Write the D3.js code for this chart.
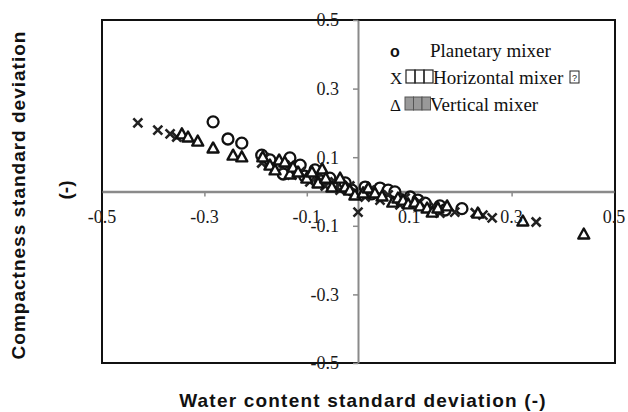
<!DOCTYPE html>
<html>
<head>
<meta charset="utf-8">
<script src="https://cdn.jsdelivr.net/npm/d3@7"></script>
<style>
  body { margin: 0; background: #fff; }
  svg { display: block; }
</style>
</head>
<body>
<svg id="chart" width="628" height="412"></svg>
<script>
// Planetary mixer (circles)
const planetaryX = [-0.283, -0.254, -0.227, -0.188, -0.172, -0.160, -0.146, -0.133, -0.113, -0.104, -0.084, -0.074, -0.055, -0.039, -0.025, -0.012, 0.014, 0.027, 0.043, 0.059, 0.072, 0.102, 0.117, 0.131, 0.160, 0.170, 0.203];
const planetaryY = [0.203, 0.153, 0.141, 0.106, 0.092, 0.069, 0.051, 0.098, 0.077, 0.045, 0.063, 0.031, 0.039, 0.019, 0.025, 0.004, 0.013, -0.007, 0.010, 0.004, -0.001, -0.016, -0.025, -0.034, -0.042, -0.054, -0.050];

// Horizontal mixer (crosses)
const horizontalX = [-0.430, -0.391, -0.367, -0.354, -0.188, -0.182, -0.143, -0.129, -0.113, -0.094, -0.078, -0.064, -0.045, -0.035, -0.016, 0.000, 0.014, 0.023, 0.043, 0.059, 0.082, 0.092, 0.121, 0.150, 0.160, 0.189, 0.229, 0.244, 0.262, 0.348];
const horizontalY = [0.200, 0.179, 0.168, 0.159, 0.083, 0.098, 0.077, 0.048, 0.057, 0.028, 0.042, 0.016, 0.028, 0.004, 0.016, -0.060, -0.016, 0.004, -0.025, -0.010, -0.039, -0.019, -0.031, -0.045, -0.063, -0.060, -0.062, -0.069, -0.077, -0.089];

// Vertical mixer (triangles)
const verticalX = [-0.344, -0.332, -0.313, -0.283, -0.244, -0.227, -0.186, -0.172, -0.162, -0.154, -0.143, -0.133, -0.127, -0.117, -0.100, -0.090, -0.078, -0.070, -0.063, -0.051, -0.035, -0.025, -0.016, -0.006, 0.010, 0.020, 0.033, 0.047, 0.068, 0.078, 0.088, 0.098, 0.111, 0.121, 0.135, 0.145, 0.156, 0.174, 0.234, 0.322, 0.441];
const verticalY = [0.168, 0.159, 0.147, 0.127, 0.106, 0.101, 0.101, 0.077, 0.063, 0.092, 0.086, 0.051, 0.071, 0.057, 0.039, 0.057, 0.025, 0.066, 0.039, 0.013, 0.039, 0.013, 0.004, -0.010, -0.004, 0.010, -0.004, -0.013, -0.031, -0.019, -0.025, -0.036, -0.031, -0.042, -0.048, -0.060, -0.048, -0.042, -0.063, -0.086, -0.124];

const tickValues = [-0.5, -0.3, -0.1, 0.1, 0.3, 0.5];
const tickLabels = ['-0.5', '-0.3', '-0.1', '0.1', '0.3', '0.5'];

const svg = d3.select('#chart');
const X0 = 102, X1 = 614, Y0 = 20, Y1 = 363;

const xScale = d3.scaleLinear().domain([-0.5, 0.5]).range([X0, X1]);
const yScale = d3.scaleLinear().domain([-0.5, 0.5]).range([Y1, Y0]);

const serif = "'Liberation Serif', 'Times New Roman', serif";
const sans = "'Liberation Sans', Arial, sans-serif";

svg.append('rect').attr('width', 628).attr('height', 412).attr('fill', '#fff');

// Frame
svg.append('rect')
  .attr('x', X0).attr('y', Y0)
  .attr('width', X1 - X0 + 1).attr('height', Y1 - Y0)
  .attr('fill', 'none')
  .attr('stroke', '#111')
  .attr('stroke-width', 2);

// Axes through origin
const xAxis = d3.axisBottom(xScale)
  .tickValues(tickValues.slice(1, -1))
  .tickFormat('')
  .tickSize(5)
  .tickSizeOuter(0);
const xAxisG = svg.append('g')
  .attr('transform', `translate(0,${yScale(0)})`)
  .call(xAxis);
xAxisG.select('.domain').attr('stroke', '#8a8a8a').attr('stroke-width', 2.5);
xAxisG.selectAll('.tick line').attr('stroke', '#8a8a8a').attr('stroke-width', 1.5);

const yAxis = d3.axisLeft(yScale)
  .tickValues(tickValues)
  .tickFormat('')
  .tickSize(5)
  .tickSizeOuter(0);
const yAxisG = svg.append('g')
  .attr('transform', `translate(${xScale(0)},0)`)
  .call(yAxis);
yAxisG.select('.domain').attr('stroke', '#8a8a8a').attr('stroke-width', 2);
yAxisG.selectAll('.tick line').attr('stroke', '#8a8a8a').attr('stroke-width', 1.5);

// Points
const planetary = planetaryX.map((x, i) => ({ x, y: planetaryY[i] }));
const horizontal = horizontalX.map((x, i) => ({ x, y: horizontalY[i] }));
const vertical = verticalX.map((x, i) => ({ x, y: verticalY[i] }));

svg.append('g').selectAll('circle')
  .data(planetary)
  .enter()
  .append('circle')
  .attr('cx', d => xScale(d.x))
  .attr('cy', d => yScale(d.y))
  .attr('r', 5.5)
  .attr('fill', '#fff')
  .attr('stroke', '#111')
  .attr('stroke-width', 2.3);

svg.append('g').selectAll('path')
  .data(horizontal)
  .enter()
  .append('path')
  .attr('transform', d => `translate(${xScale(d.x)},${yScale(d.y)})`)
  .attr('d', 'M-4.5,-4.5L4.5,4.5M-4.5,4.5L4.5,-4.5')
  .attr('stroke', '#222')
  .attr('stroke-width', 2.6);

svg.append('g').selectAll('path')
  .data(vertical)
  .enter()
  .append('path')
  .attr('transform', d => `translate(${xScale(d.x)},${yScale(d.y)})`)
  .attr('d', 'M0,-5.5L5.5,4.5L-5.5,4.5Z')
  .attr('fill', '#fff')
  .attr('stroke', '#111')
  .attr('stroke-width', 2.4)
  .attr('stroke-linejoin', 'round');

// Tick labels
svg.append('g').selectAll('text')
  .data(tickValues)
  .enter()
  .append('text')
  .attr('x', d => xScale(d))
  .attr('y', yScale(0) + 31)
  .attr('text-anchor', 'middle')
  .style('font-family', serif)
  .style('font-size', '18px')
  .style('fill', '#1a1a1a')
  .text((d, i) => tickLabels[i]);

svg.append('g').selectAll('text')
  .data(tickValues)
  .enter()
  .append('text')
  .attr('x', xScale(0) - 19)
  .attr('y', d => yScale(d))
  .attr('dy', '0.35em')
  .attr('text-anchor', 'end')
  .style('font-family', serif)
  .style('font-size', '18px')
  .style('fill', '#1a1a1a')
  .text((d, i) => tickLabels[i]);

// Axis titles
svg.append('text')
  .attr('x', 363)
  .attr('y', 407)
  .attr('text-anchor', 'middle')
  .style('font-family', sans)
  .style('font-weight', 'bold')
  .style('font-size', '19px')
  .style('letter-spacing', '1.2px')
  .style('fill', '#111')
  .text('Water content standard deviation (-)');

svg.append('text')
  .attr('transform', 'translate(25,195) rotate(-90)')
  .attr('text-anchor', 'middle')
  .style('font-family', sans)
  .style('font-weight', 'bold')
  .style('font-size', '19px')
  .style('letter-spacing', '1px')
  .style('fill', '#111')
  .text('Compactness standard deviation');

svg.append('text')
  .attr('transform', 'translate(72,190) rotate(-90)')
  .attr('text-anchor', 'middle')
  .style('font-family', sans)
  .style('font-weight', 'bold')
  .style('font-size', '19px')
  .style('fill', '#111')
  .text('(-)');

// Legend
const legend = svg.append('g');
const legendRows = [
  { sym: 'o', label: 'Planetary mixer', y: 57, tx: 430 },
  { sym: 'X', label: 'Horizontal mixer', y: 84, tx: 433 },
  { sym: 'Δ', label: 'Vertical mixer', y: 111, tx: 430 }
];
legendRows.forEach((r, i) => {
  legend.append('text')
    .attr('x', 390)
    .attr('y', r.y)
    .style('font-family', i === 0 ? sans : serif)
    .style('font-weight', i === 0 ? 'bold' : 'normal')
    .style('font-size', i === 0 ? '16px' : '17px')
    .style('fill', '#111')
    .text(r.sym);
  legend.append('text')
    .attr('x', r.tx)
    .attr('y', r.y)
    .style('font-family', serif)
    .style('font-size', '19px')
    .style('fill', '#111')
    .text(r.label);
});
// missing-glyph boxes
[0, 1, 2].forEach(k => {
  legend.append('rect')
    .attr('x', 406 + k * 9).attr('y', 70)
    .attr('width', 9).attr('height', 13)
    .attr('fill', 'none').attr('stroke', '#222').attr('stroke-width', 1.2);
});
[0, 1, 2].forEach(k => {
  legend.append('rect')
    .attr('x', 405 + k * 8.5).attr('y', 97)
    .attr('width', 8.5).attr('height', 13)
    .attr('fill', '#999').attr('stroke', '#555').attr('stroke-width', 1);
});
legend.append('rect')
  .attr('x', 570).attr('y', 71)
  .attr('width', 9).attr('height', 12)
  .attr('fill', 'none').attr('stroke', '#222').attr('stroke-width', 1);
legend.append('text')
  .attr('x', 574.5).attr('y', 81)
  .attr('text-anchor', 'middle')
  .style('font-family', sans)
  .style('font-size', '9px')
  .style('fill', '#222')
  .text('?');
</script>
</body>
</html>
